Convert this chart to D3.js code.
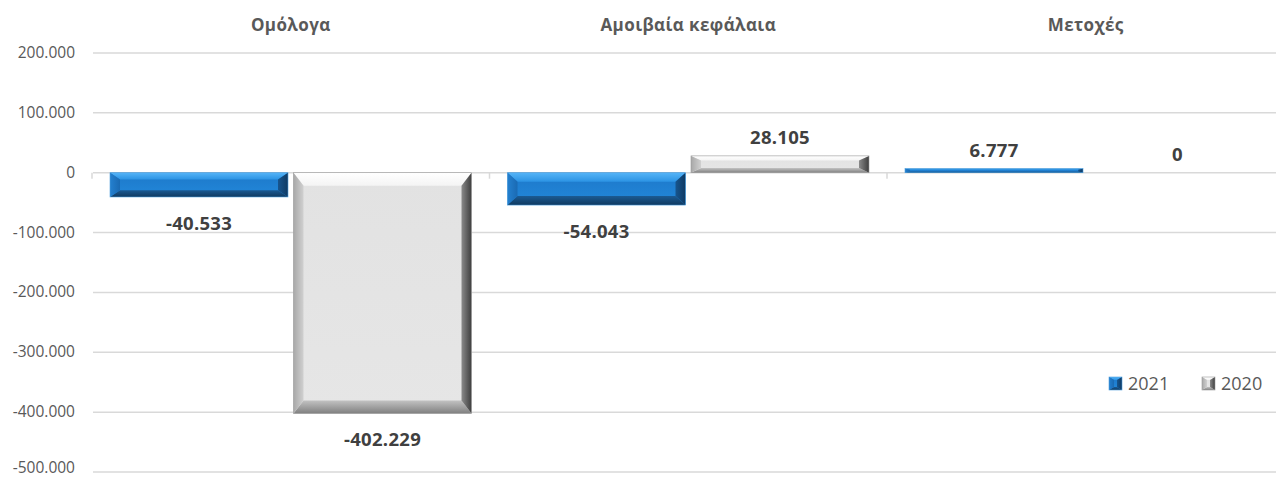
<!DOCTYPE html>
<html>
<head>
<meta charset="utf-8">
<script src="https://cdn.jsdelivr.net/npm/d3@7"></script>
<style>
  body { margin: 0; background: #fff; }
  svg { display: block; }
</style>
</head>
<body>
<div id="chart"></div>
<script>
// data
const categories = ["Ομόλογα", "Αμοιβαία κεφάλαια", "Μετοχές"];
const seriesNames = ["2021", "2020"];
const values2021 = [-40533, -54043, 6777];
const values2020 = [-402229, 28105, 0];
const yTicks = [200000, 100000, 0, -100000, -200000, -300000, -400000, -500000];

const width = 1276, height = 479;
const svg = d3.select("#chart").append("svg")
    .attr("width", width)
    .attr("height", height);

const grLocale = d3.formatLocale({decimal: ",", thousands: ".", grouping: [3], currency: ["€", ""], minus: "-"});
const fmt = grLocale.format(",d");

const x0 = d3.scaleBand().domain(categories).range([92, 92 + 3 * 397.5]);
const x1 = d3.scaleBand().domain(seriesNames).range([18, x0.bandwidth() - 18]).paddingInner(0.03);
const y = d3.scaleLinear().domain([-500000, 200000]).range([472, 53]);

// bevel colours: [edge, inner] per side
const palettes = {
    "2021": {
        face: ["#1d78c9", "#2288da"],
        top: ["#55b4f7", "#2b93e4"],
        bottom: ["#1b5a93", "#103a60"],
        left: ["#2480cf", "#1a6ab3"],
        right: ["#0f3a63", "#17558e"],
        stroke: "#4f9fdc"
    },
    "2020": {
        face: ["#e2e2e2", "#e6e6e6"],
        top: ["#ffffff", "#f4f4f4"],
        bottom: ["#c2c2c2", "#808080"],
        left: ["#a8a8a8", "#d0d0d0"],
        right: ["#3e3e3e", "#8a8a8a"],
        stroke: "#9a9a9a"
    }
};

const defs = svg.append("defs");
function grad(id, from, to, dir) {
    const g = defs.append("linearGradient").attr("id", id);
    if (dir === "v") g.attr("x1", 0).attr("y1", 0).attr("x2", 0).attr("y2", 1);
    else g.attr("x1", 0).attr("y1", 0).attr("x2", 1).attr("y2", 0);
    g.append("stop").attr("offset", "0%").attr("stop-color", from);
    g.append("stop").attr("offset", "100%").attr("stop-color", to);
}
seriesNames.forEach(s => {
    const p = palettes[s];
    grad("face" + s, p.face[0], p.face[1], "v");
    grad("top" + s, p.top[0], p.top[1], "v");
    grad("bottom" + s, p.bottom[0], p.bottom[1], "v");
    grad("left" + s, p.left[0], p.left[1], "h");
    grad("right" + s, p.right[1], p.right[0], "h");
});

function bevelRect(g, s, x, yy, w, h, bh, bv) {
    if (h <= 0) return;
    const pts = arr => arr.map(d => d.join(",")).join(" ");
    g.append("rect").attr("x", x).attr("y", yy).attr("width", w).attr("height", h)
        .attr("fill", "url(#face" + s + ")");
    g.append("polygon").attr("points", pts([[x, yy], [x + w, yy], [x + w - bh, yy + bv], [x + bh, yy + bv]]))
        .attr("fill", "url(#top" + s + ")");
    g.append("polygon").attr("points", pts([[x, yy + h], [x + w, yy + h], [x + w - bh, yy + h - bv], [x + bh, yy + h - bv]]))
        .attr("fill", "url(#bottom" + s + ")");
    g.append("polygon").attr("points", pts([[x, yy], [x + bh, yy + bv], [x + bh, yy + h - bv], [x, yy + h]]))
        .attr("fill", "url(#left" + s + ")");
    g.append("polygon").attr("points", pts([[x + w, yy], [x + w - bh, yy + bv], [x + w - bh, yy + h - bv], [x + w, yy + h]]))
        .attr("fill", "url(#right" + s + ")");
    g.append("rect").attr("x", x).attr("y", yy).attr("width", w).attr("height", h)
        .attr("fill", "none").attr("stroke", palettes[s].stroke).attr("stroke-width", 0.6);
}

// gridlines
svg.append("g").selectAll("line")
    .data(yTicks)
    .join("line")
    .attr("x1", 93).attr("x2", width)
    .attr("y1", d => y(d)).attr("y2", d => y(d))
    .attr("stroke", "#d9d9d9").attr("stroke-width", 1.5);

// category ticks on the zero line
svg.append("g").selectAll("line")
    .data(categories)
    .join("line")
    .attr("x1", d => x0(d)).attr("x2", d => x0(d))
    .attr("y1", y(0)).attr("y2", y(0) + 6)
    .attr("stroke", "#d9d9d9").attr("stroke-width", 1.5);

// y axis labels (keep the bottom one inside the window)
svg.append("g").selectAll("text")
    .data(yTicks)
    .join("text")
    .attr("x", 75).attr("y", d => Math.min(y(d) + 5, height - 6))
    .attr("text-anchor", "end")
    .style("font-family", "'Open Sans', sans-serif")
    .style("font-size", "15.5px")
    .style("fill", "#595959")
    .text(d => fmt(d));

// category titles on top
svg.append("g").selectAll("text")
    .data(categories)
    .join("text")
    .attr("x", d => x0(d) + x0.bandwidth() / 2)
    .attr("y", 31)
    .attr("text-anchor", "middle")
    .style("font-family", "'Open Sans', sans-serif")
    .style("font-size", "17px")
    .style("font-weight", "bold")
    .style("letter-spacing", "0.4px")
    .style("fill", "#595959")
    .text(d => d);

// bars
const rows = categories.map((c, i) => ({cat: c, vals: [
    {s: "2021", v: values2021[i]},
    {s: "2020", v: values2020[i]}
]}));

const barG = svg.append("g");
const labelG = svg.append("g");
rows.forEach(r => {
    r.vals.forEach(d => {
        const bx = x0(r.cat) + x1(d.s);
        const bw = x1.bandwidth();
        const top = y(Math.max(0, d.v));
        const bot = y(Math.min(0, d.v));
        const h = bot - top;
        const bv = Math.min(13, h * 0.28);
        const bh = Math.min(10, h * 0.45 + 3);
        bevelRect(barG, d.s, bx, top, bw, h, bh, bv);
        labelG.append("text")
            .attr("x", bx + bw / 2)
            .attr("y", d.v < 0 ? bot + 33 : top - 12)
            .attr("text-anchor", "middle")
            .style("font-family", "'Open Sans', sans-serif")
            .style("font-size", "18.5px")
            .style("font-weight", "bold")
            .style("letter-spacing", "0.3px")
            .style("fill", "#404040")
            .text(fmt(d.v));
    });
});

// legend
const legend = svg.append("g");
const legendX = [1109, 1202];
seriesNames.forEach((s, i) => {
    bevelRect(legend, s, legendX[i], 377, 13, 13, 5, 3);
    legend.append("text")
        .attr("x", legendX[i] + 19).attr("y", 390)
        .style("font-family", "'Open Sans', sans-serif")
        .style("font-size", "18px")
        .style("fill", "#595959")
        .text(s);
});
</script>
</body>
</html>
